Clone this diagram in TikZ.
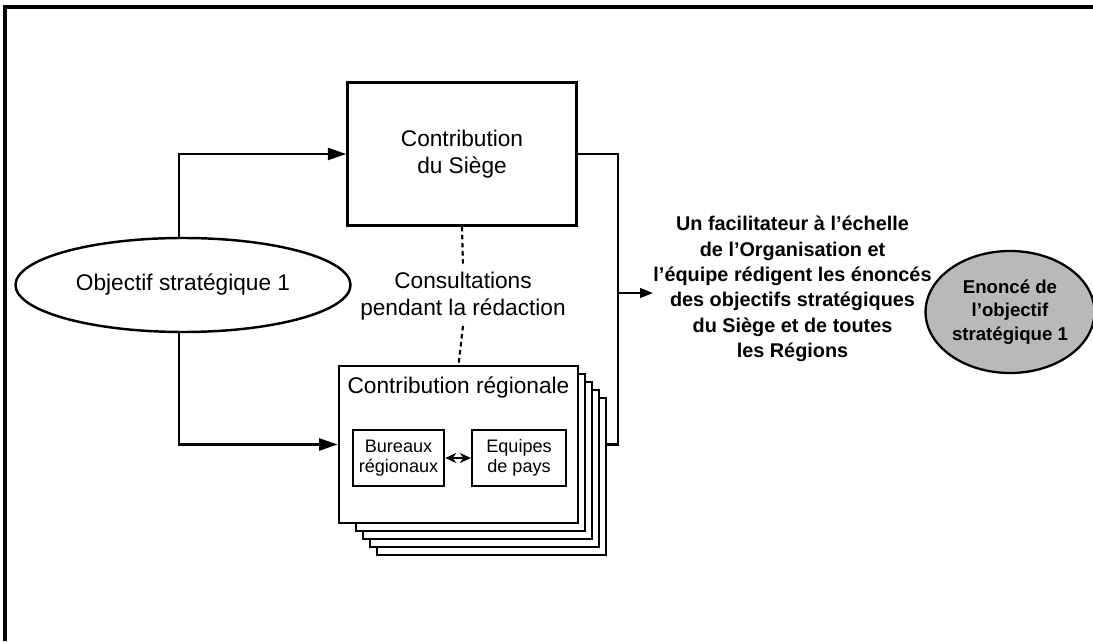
\documentclass[tikz,border=0pt]{standalone}
\usepackage{fontspec}
\setmainfont{Liberation Sans}
\usetikzlibrary{arrows.meta,shapes.geometric,positioning}

\tikzset{
    box/.style={draw, rectangle, line width=1.4pt, fill=white},
    smallbox/.style={draw, rectangle, line width=1.3pt, font=\fontsize{10.3}{11.5}\selectfont, align=center},
    arr/.style={line width=1.4pt, -{Triangle[length=3.7mm, width=2.4mm]}},
    smallarr/.style={line width=1.4pt, -{Triangle[length=2.6mm, width=1.9mm]}},
    dashline/.style={line width=1.2pt, dash pattern=on 2.6pt off 2pt},
}

\begin{document}
\begin{tikzpicture}[font=\fontsize{12.9}{15}\selectfont]
\useasboundingbox (0,0) rectangle (21.86,12.82);

% Frame
\draw[line width=2pt] (0.1,0) -- (0.1,12.68) -- (21.86,12.68);

% Strategic objective
\node[draw, ellipse, line width=1.4pt, minimum width=6.7cm, minimum height=1.88cm] (objectif) at (3.66,7.12) {Objectif stratégique 1};

% Headquarters contribution
\node[box, minimum width=4.58cm, minimum height=2.86cm, align=center] (siege) at (9.24,9.74) {Contribution\\du Siège};

% Consultations
\node[align=center] (consult) at (9.26,6.9) {Consultations\\pendant la rédaction};

% Regional contribution (stacked copies)
\foreach \k in {4,3,2,1} {
    \node[box, line width=1.2pt, minimum width=4.58cm, minimum height=3.14cm] (back\k) at ({9.27+0.142*\k},{3.93-0.16*\k}) {};
}
\node[box, line width=1.6pt, minimum width=4.78cm, minimum height=3.14cm] (regional) at (9.17,3.93) {};
\node (regtitle) at (9.17,5.06) {Contribution régionale};
\node[smallbox, minimum width=1.82cm, minimum height=1.12cm] (bureaux) at (7.97,3.66) {Bureaux\\régionaux};
\node[smallbox, minimum width=1.88cm, minimum height=1.12cm] (equipes) at (10.38,3.66) {Equipes\\de pays};

% Drafting team
\node[align=center, inner sep=0pt, font=\bfseries\fontsize{11.3}{14.4}\selectfont] (facil) at (15.85,7.04) {Un facilitateur à l’échelle\\de l’Organisation et\\l’équipe rédigent les énoncés\\des objectifs stratégiques\\du Siège et de toutes\\les Régions};

% Statement
\node[draw, ellipse, line width=1.3pt, fill=gray!55, minimum width=3.08cm, minimum height=2.44cm, inner sep=1pt, align=center, font=\bfseries\fontsize{10.6}{13.5}\selectfont] (enonce) at (20.2,6.58) {Enoncé de\\l’objectif\\stratégique 1};

% Connectors
\coordinate (join) at (12.36,6.96);
\draw[arr] (objectif.95) |- (siege.west);
\draw[arr] (objectif.265) |- (regional.west);
\draw[line width=1.4pt] (siege.east) -| (join) |- (regional.east -| back4.east);
\draw[smallarr] (join) -- (join -| facil.west);
\draw[dashline] (siege.south) -- (consult.north);
\draw[dashline] (consult.south) -- (regional.north);
\draw[line width=1.3pt, {Stealth[length=2.2mm, width=2mm]}-{Stealth[length=2.2mm, width=2mm]}] (bureaux) -- (equipes);

\end{tikzpicture}
\end{document}
